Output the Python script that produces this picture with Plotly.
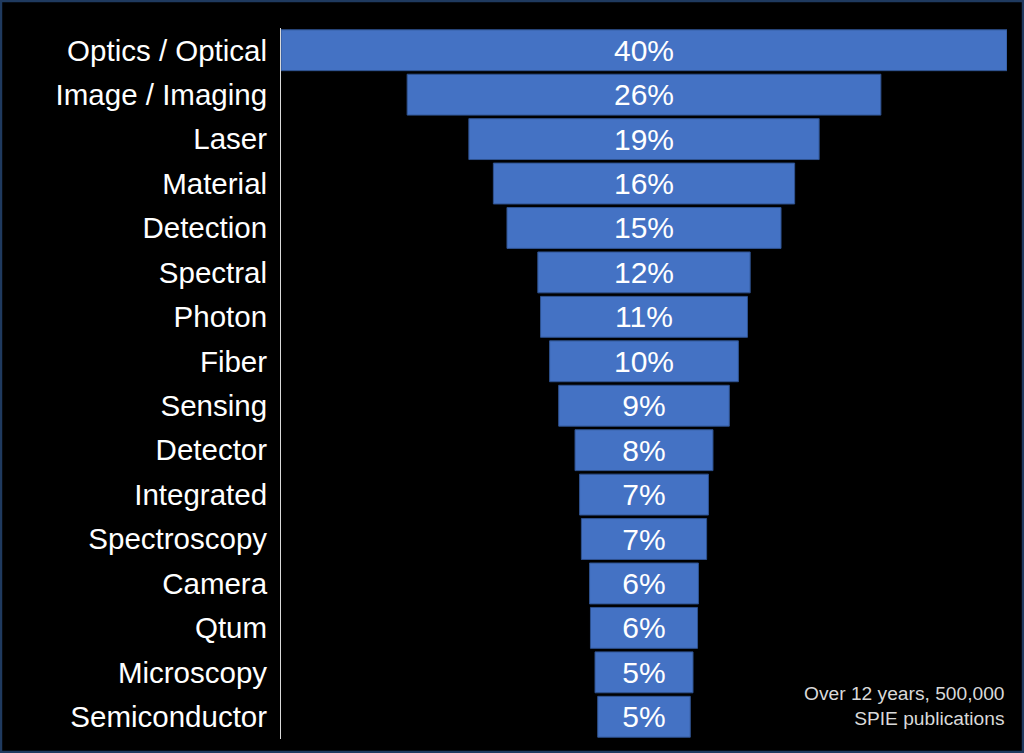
import plotly.graph_objects as go

# Keyword share across SPIE publications
keywords = ['Optics / Optical', 'Image / Imaging', 'Laser', 'Material', 'Detection',
            'Spectral', 'Photon', 'Fiber', 'Sensing', 'Detector', 'Integrated',
            'Spectroscopy', 'Camera', 'Qtum', 'Microscopy', 'Semiconductor']
shares = [40.0, 26.1, 19.3, 16.6, 15.1, 11.7, 11.4, 10.4, 9.4, 7.6, 7.1, 6.9, 6.0, 5.9, 5.4, 5.1]
share_labels = ['40%', '26%', '19%', '16%', '15%', '12%', '11%', '10%', '9%', '8%',
                '7%', '7%', '6%', '6%', '5%', '5%']

W, H = 1024, 753
ML, MR, MT, MB = 281, 17, 28, 14

fig = go.Figure(go.Funnel(
    y=keywords,
    x=shares,
    text=share_labels,
    textinfo='text',
    textposition='inside',
    insidetextanchor='middle',
    constraintext='none',
    textfont=dict(color='white', size=30, family='Liberation Sans, Arial'),
    marker=dict(color='#4472C4', line=dict(color='#2F528F', width=1)),
    connector=dict(visible=False),
    hoverinfo='y+text',
))

fig.update_layout(
    width=W, height=H,
    margin=dict(l=ML, r=MR, t=MT, b=MB),
    paper_bgcolor='black',
    plot_bgcolor='black',
    font=dict(family='Liberation Sans, Arial', color='white'),
    showlegend=False,
    funnelgap=0.08,
)

fig.update_xaxes(visible=False, range=[-20, 20])
fig.update_yaxes(
    showline=True, linecolor='#D9D9D9', linewidth=1,
    showgrid=False, ticks='', ticklabelstandoff=7,
    tickfont=dict(size=29.5, color='white'),
)

# source note, bottom right
fig.add_annotation(
    text='Over 12 years, 500,000<br>SPIE publications',
    xref='paper', yref='paper', x=1, y=0.011,
    xanchor='right', yanchor='bottom', align='right', showarrow=False,
    font=dict(size=19.2, color='#D9D9D9'),
)

# dark navy frame around the whole picture
pw, ph = W - ML - MR, H - MT - MB
fig.add_shape(
    type='rect', xref='paper', yref='paper',
    x0=-ML / pw + 0.001, x1=1 + MR / pw - 0.001,
    y0=-MB / ph + 0.001, y1=1 + MT / ph - 0.001,
    line=dict(color='#1F3A5F', width=3),
)

# drop the default page margin so the figure sits at the window's corner
fig.write_html('out.html', config={'displayModeBar': False},
               post_script="document.body.style.margin='0';")
